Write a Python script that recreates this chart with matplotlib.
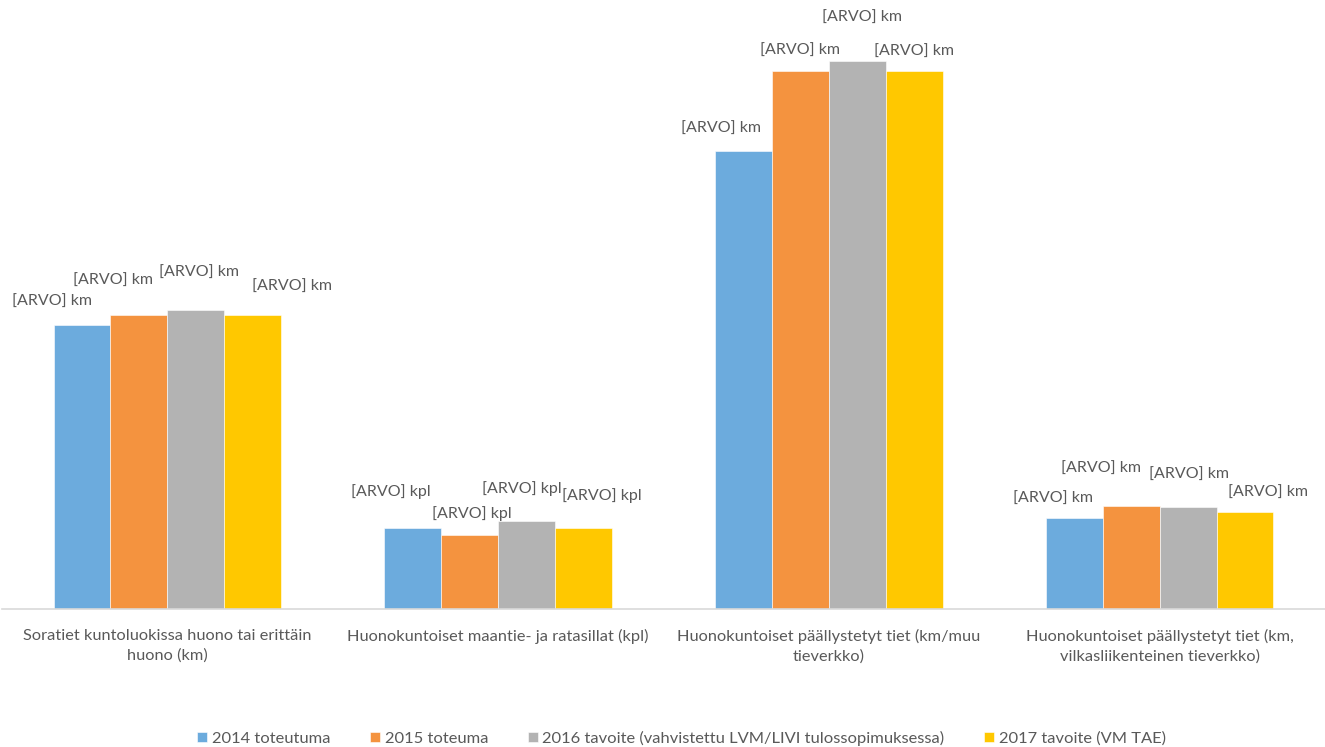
import matplotlib.pyplot as plt
import numpy as np

# Categories and series (arbitrary units)
categories = [
    "Soratiet kuntoluokissa huono tai erittäin\nhuono (km)",
    "Huonokuntoiset maantie- ja ratasillat (kpl)",
    "Huonokuntoiset päällystetyt tiet (km/muu\ntieverkko)",
    "Huonokuntoiset päällystetyt tiet (km,\nvilkasliikenteinen tieverkko)",
]
series_names = [
    "2014 toteutuma",
    "2015 toteuma",
    "2016 tavoite (vahvistettu LVM/LIVI tulossopimuksessa)",
    "2017 tavoite (VM TAE)",
]
values_2014 = [284.5, 81.5, 458.5, 91.5]
values_2015 = [294.5, 74.5, 538.5, 103.5]
values_2016 = [299.5, 88.5, 548.5, 102.5]
values_2017 = [294.5, 81.5, 538.5, 97.5]
units = ["km", "kpl", "km", "km"]

colors = ["#6CABDD", "#F4933F", "#B3B3B3", "#FFC800"]
text_color = "#595959"

# label offsets (pixels) relative to each bar top, per series then category
label_offsets = [
    [(-30, 23), (-22, 36), (-23, 22), (-21, 19)],
    [(-26, 34), (2, 21), (0, 20), (-30, 37)],
    [(3, 37), (-5, 32), (5, 43), (1, 32)],
    [(39, 28), (18, 32), (0, 19), (23, 19)],
]

plt.rcParams["font.family"] = ["Lato", "DejaVu Sans"]

fig = plt.figure(figsize=(13.25, 7.47), dpi=100)
ax = fig.add_axes([2 / 1325, (747 - 609) / 747, 1323 / 1325, 609 / 747])

x = np.arange(len(categories))
width = 0.172
all_values = [values_2014, values_2015, values_2016, values_2017]

for i, (vals, name, col) in enumerate(zip(all_values, series_names, colors)):
    pos = x + (i - 1.5) * width
    ax.bar(pos, vals, width, color=col, label=name, edgecolor="white", linewidth=0.4)
    for j, (px, v) in enumerate(zip(pos, vals)):
        dx, dy = label_offsets[i][j]
        ax.annotate(f"[ARVO] {units[j]}", (px, v), xytext=(dx, dy),
                    textcoords="offset pixels", ha="center", va="center",
                    fontsize=11.5, color=text_color)

ax.set_xlim(-0.5, 3.5)
ax.set_ylim(0, 609)
ax.set_xticks(x)
ax.set_xticklabels(categories, fontsize=11.8, color=text_color, linespacing=1.45)
ax.tick_params(axis="x", length=0, pad=14.5)
ax.set_yticks([])
for side in ["top", "right", "left"]:
    ax.spines[side].set_visible(False)
ax.spines["bottom"].set_color("#D9D9D9")
ax.spines["bottom"].set_linewidth(1.2)

leg = fig.legend(loc="center", bbox_to_anchor=(681.5 / 1325, 9 / 747), ncol=4,
                 frameon=False, fontsize=11.85, handlelength=0.6, handleheight=0.6,
                 handletextpad=0.3, columnspacing=2.4)
for t in leg.get_texts():
    t.set_color(text_color)

fig.savefig("out.png", dpi=100)
